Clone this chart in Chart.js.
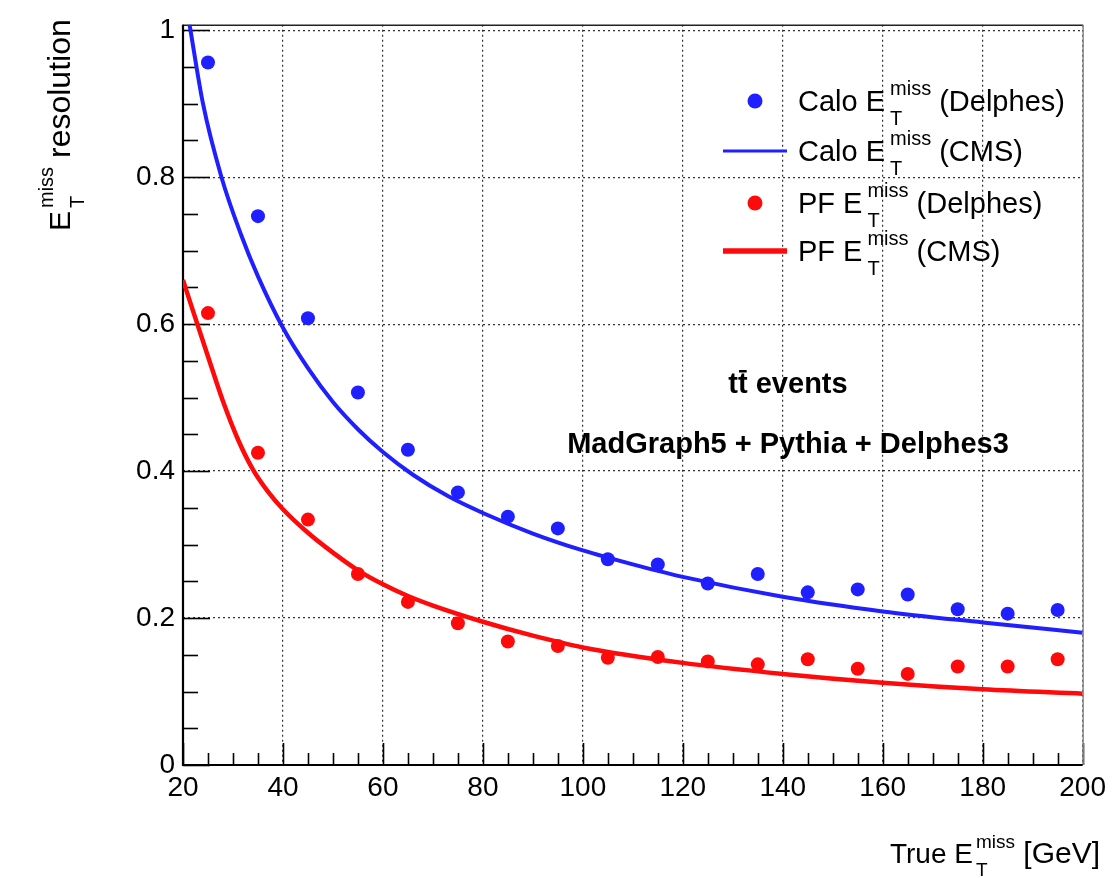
<!DOCTYPE html>
<html>
<head>
<meta charset="utf-8">
<script src="https://cdn.jsdelivr.net/npm/chart.js@4.4.0/dist/chart.umd.min.js"></script>
<style>
  html, body { margin: 0; padding: 0; background: #ffffff; }
  #wrap { width: 1112px; height: 878px; position: relative; }
  canvas { display: block; }
</style>
</head>
<body>
<div id="wrap"><canvas id="c" width="1112" height="878"></canvas></div>
<script>
// True missing E_T bin centres [GeV]
const binCentres = [25, 35, 45, 55, 65, 75, 85, 95, 105, 115, 125, 135, 145, 155, 165, 175, 185, 195];

// Delphes resolutions per bin
const caloDelphes = [0.956, 0.747, 0.608, 0.507, 0.429, 0.371, 0.338, 0.322, 0.280, 0.273, 0.247, 0.260, 0.235, 0.239, 0.232, 0.212, 0.206, 0.211];
const pfDelphes   = [0.615, 0.425, 0.334, 0.260, 0.222, 0.193, 0.168, 0.162, 0.146, 0.147, 0.141, 0.137, 0.144, 0.131, 0.124, 0.134, 0.134, 0.144];

// CMS parametrised resolution curves
const caloCmsX = [21.3, 24, 27.7, 31.6, 35, 40, 45, 50, 55, 60, 66, 73, 80, 90, 100, 110, 120, 140, 160, 180, 200];
const caloCmsY = [1.008, 0.900, 0.800, 0.722, 0.665, 0.595, 0.540, 0.494, 0.457, 0.426, 0.395, 0.366, 0.343, 0.315, 0.292, 0.273, 0.256, 0.229, 0.209, 0.194, 0.180];
const pfCmsX = [20, 22, 25, 28, 31, 34, 37, 40, 45, 50, 55, 60, 65, 70, 80, 90, 100, 120, 140, 160, 180, 200];
const pfCmsY = [0.660, 0.618, 0.556, 0.495, 0.443, 0.402, 0.372, 0.348, 0.316, 0.289, 0.265, 0.246, 0.230, 0.217, 0.195, 0.176, 0.160, 0.139, 0.124, 0.112, 0.103, 0.097];

// Axis ticks and labels
const xTicks = [20, 40, 60, 80, 100, 120, 140, 160, 180, 200];
const xTickLabels = ['20', '40', '60', '80', '100', '120', '140', '160', '180', '200'];
const yTicks = [0, 0.2, 0.4, 0.6, 0.8, 1.0];
const yTickLabels = ['0', '0.2', '0.4', '0.6', '0.8', '1'];
const xMinorStep = 5;
const yMinorStep = 0.05;

const FONT = '"Liberation Sans", Arial, Helvetica, sans-serif';
const BLUE = '#1f1fff';
const RED = '#ff0a0a';

const toPoints = (xs, ys) => xs.map((x, i) => ({ x: x, y: ys[i] }));

// Text runs with a stacked superscript/subscript group, e.g. E_T^miss
function richWidth(ctx, parts) {
  let w = 0;
  for (const p of parts) {
    ctx.font = p.font;
    if (p.sup !== undefined) {
      w += Math.max(ctx.measureText(p.sup).width, ctx.measureText(p.sub).width) + (p.gap || 0);
    } else {
      w += ctx.measureText(p.text).width;
    }
  }
  return w;
}
function drawRich(ctx, x, y, parts) {
  let cx = x;
  ctx.textAlign = 'left';
  ctx.textBaseline = 'alphabetic';
  for (const p of parts) {
    ctx.font = p.font;
    if (p.sup !== undefined) {
      const g = p.gap || 0;
      ctx.fillText(p.sup, cx + g, y + p.supDy);
      ctx.fillText(p.sub, cx + g, y + p.subDy);
      cx += Math.max(ctx.measureText(p.sup).width, ctx.measureText(p.sub).width) + g;
    } else {
      ctx.fillText(p.text, cx, y);
      cx += ctx.measureText(p.text).width;
    }
  }
  return cx;
}
function etMiss(lead, trail, size, trailSize, gap) {
  const big = size + 'px ' + FONT;
  const tail = (trailSize || size) + 'px ' + FONT;
  const small = Math.round(size * 0.68) + 'px ' + FONT;
  return [
    { text: lead, font: big },
    { sup: 'miss', sub: 'T', font: small, supDy: -Math.round(size * 0.55), subDy: Math.round(size * 0.48), gap: gap === undefined ? 3 : gap },
    { text: trail, font: tail }
  ];
}

// Frame, inner tick marks, axis titles, legend and text labels
const decorations = {
  id: 'decorations',
  beforeDatasetsDraw(chart) {
    const { ctx, chartArea: a, scales: { x, y } } = chart;
    ctx.save();
    ctx.strokeStyle = '#000';
    ctx.lineWidth = 1.6;
    for (let v = 0; v <= 1.0001; v += yMinorStep) {
      const py = Math.round(y.getPixelForValue(v)) + 0.5;
      const major = Math.abs(v / 0.2 - Math.round(v / 0.2)) < 1e-6;
      ctx.beginPath();
      ctx.moveTo(a.left, py);
      ctx.lineTo(a.left + (major ? 27 : 15), py);
      ctx.stroke();
    }
    for (let v = 20; v <= 200; v += xMinorStep) {
      const px = Math.round(x.getPixelForValue(v)) + 0.5;
      const major = (v % 20) === 0;
      ctx.beginPath();
      ctx.moveTo(px, a.bottom);
      ctx.lineTo(px, a.bottom - (major ? 22 : 12));
      ctx.stroke();
    }
    ctx.lineWidth = 1.5;
    ctx.strokeStyle = '#222';
    ctx.beginPath();
    ctx.moveTo(a.left, a.top + 0.5);
    ctx.lineTo(a.right, a.top + 0.5);
    ctx.stroke();
    ctx.strokeStyle = '#8a8a8a';
    ctx.beginPath();
    ctx.moveTo(a.right + 0.5, a.top);
    ctx.lineTo(a.right + 0.5, a.bottom);
    ctx.stroke();
    ctx.lineWidth = 2.2;
    ctx.strokeStyle = '#000';
    ctx.beginPath();
    ctx.moveTo(a.left, a.top);
    ctx.lineTo(a.left, a.bottom);
    ctx.lineTo(a.right, a.bottom);
    ctx.stroke();
    ctx.restore();
  },
  afterDraw(chart) {
    const { ctx } = chart;
    ctx.save();
    ctx.fillStyle = '#000';

    // x-axis title, right aligned
    const xt = etMiss('True E', ' [GeV]', 28, 30);
    const xw = richWidth(ctx, xt);
    drawRich(ctx, 1100 - xw, 863, xt);

    // y-axis title, rotated, aligned to the top of the axis
    ctx.save();
    ctx.translate(70, 231);
    ctx.rotate(-Math.PI / 2);
    drawRich(ctx, 0, 0, etMiss('E', ' resolution', 30, 32));
    ctx.restore();

    // legend
    const rows = [
      { ds: 0, kind: 'dot', lead: 'Calo E', trail: ' (Delphes)', cy: 101 },
      { ds: 1, kind: 'line', lead: 'Calo E', trail: ' (CMS)', cy: 151 },
      { ds: 2, kind: 'dot', lead: 'PF E', trail: ' (Delphes)', cy: 203 },
      { ds: 3, kind: 'line', lead: 'PF E', trail: ' (CMS)', cy: 251 }
    ];
    for (const r of rows) {
      const d = chart.data.datasets[r.ds];
      if (r.kind === 'dot') {
        ctx.fillStyle = d.backgroundColor;
        ctx.beginPath();
        ctx.arc(755, r.cy, 7.5, 0, Math.PI * 2);
        ctx.fill();
      } else {
        ctx.strokeStyle = d.borderColor;
        ctx.lineWidth = d.legendWidth;
        ctx.beginPath();
        ctx.moveTo(723, r.cy);
        ctx.lineTo(787, r.cy);
        ctx.stroke();
      }
      ctx.fillStyle = '#000';
      drawRich(ctx, 798, r.cy + 10, etMiss(r.lead, r.trail, 29, 29, 5));
    }

    // process / generator labels
    ctx.font = 'bold 29px ' + FONT;
    ctx.textBaseline = 'alphabetic';
    ctx.textAlign = 'left';
    const l1 = 'tt events';
    const w1 = ctx.measureText(l1).width;
    const x1 = 788 - w1 / 2;
    ctx.fillText(l1, x1, 393);
    const wt = ctx.measureText('t').width;
    ctx.fillRect(x1 + wt + 1, 370, wt - 2, 2.5);
    ctx.textAlign = 'center';
    ctx.fillText('MadGraph5 + Pythia + Delphes3', 788, 453);
    ctx.restore();
  }
};

const ctx = document.getElementById('c').getContext('2d');
new Chart(ctx, {
  type: 'scatter',
  data: {
    datasets: [
      {
        label: 'Calo Delphes',
        data: toPoints(binCentres, caloDelphes),
        backgroundColor: BLUE, borderColor: BLUE,
        pointRadius: 7, pointBorderWidth: 0, showLine: false, order: 2
      },
      {
        label: 'Calo CMS',
        data: toPoints(caloCmsX, caloCmsY),
        borderColor: BLUE, backgroundColor: BLUE,
        borderWidth: 4, legendWidth: 3, pointRadius: 0, showLine: true,
        cubicInterpolationMode: 'monotone', order: 1
      },
      {
        label: 'PF Delphes',
        data: toPoints(binCentres, pfDelphes),
        backgroundColor: RED, borderColor: RED,
        pointRadius: 7, pointBorderWidth: 0, showLine: false, order: 2
      },
      {
        label: 'PF CMS',
        data: toPoints(pfCmsX, pfCmsY),
        borderColor: RED, backgroundColor: RED,
        borderWidth: 4.5, legendWidth: 5.5, pointRadius: 0, showLine: true,
        cubicInterpolationMode: 'monotone', order: 1
      }
    ]
  },
  options: {
    responsive: false,
    animation: false,
    devicePixelRatio: 1,
    layout: { padding: { top: 17, right: 22, left: 0, bottom: 0 } },
    plugins: { legend: { display: false }, tooltip: { enabled: false } },
    scales: {
      x: {
        type: 'linear', min: 20, max: 200,
        afterBuildTicks: s => { s.ticks = xTicks.map(v => ({ value: v })); },
        afterFit: s => { s.height = 878 - 765; },
        ticks: {
          callback: (v) => xTickLabels[xTicks.indexOf(v)],
          font: { family: FONT, size: 28 }, color: '#000', padding: 6, maxRotation: 0, autoSkip: false
        },
        grid: { color: 'rgba(0,0,0,0.8)', lineWidth: 1.2, drawTicks: false, tickLength: 0 },
        border: { display: false, dash: [2, 3] }
      },
      y: {
        type: 'linear', min: 0, max: 1.0074,
        afterBuildTicks: s => { s.ticks = yTicks.map(v => ({ value: v })); },
        afterFit: s => { s.width = 183; },
        ticks: {
          callback: (v) => yTickLabels[yTicks.indexOf(v)],
          font: { family: FONT, size: 28 }, color: '#000', padding: 8, autoSkip: false
        },
        grid: { color: 'rgba(0,0,0,0.8)', lineWidth: 1.2, drawTicks: false, tickLength: 0 },
        border: { display: false, dash: [2, 3] }
      }
    }
  },
  plugins: [decorations]
});
</script>
</body>
</html>
